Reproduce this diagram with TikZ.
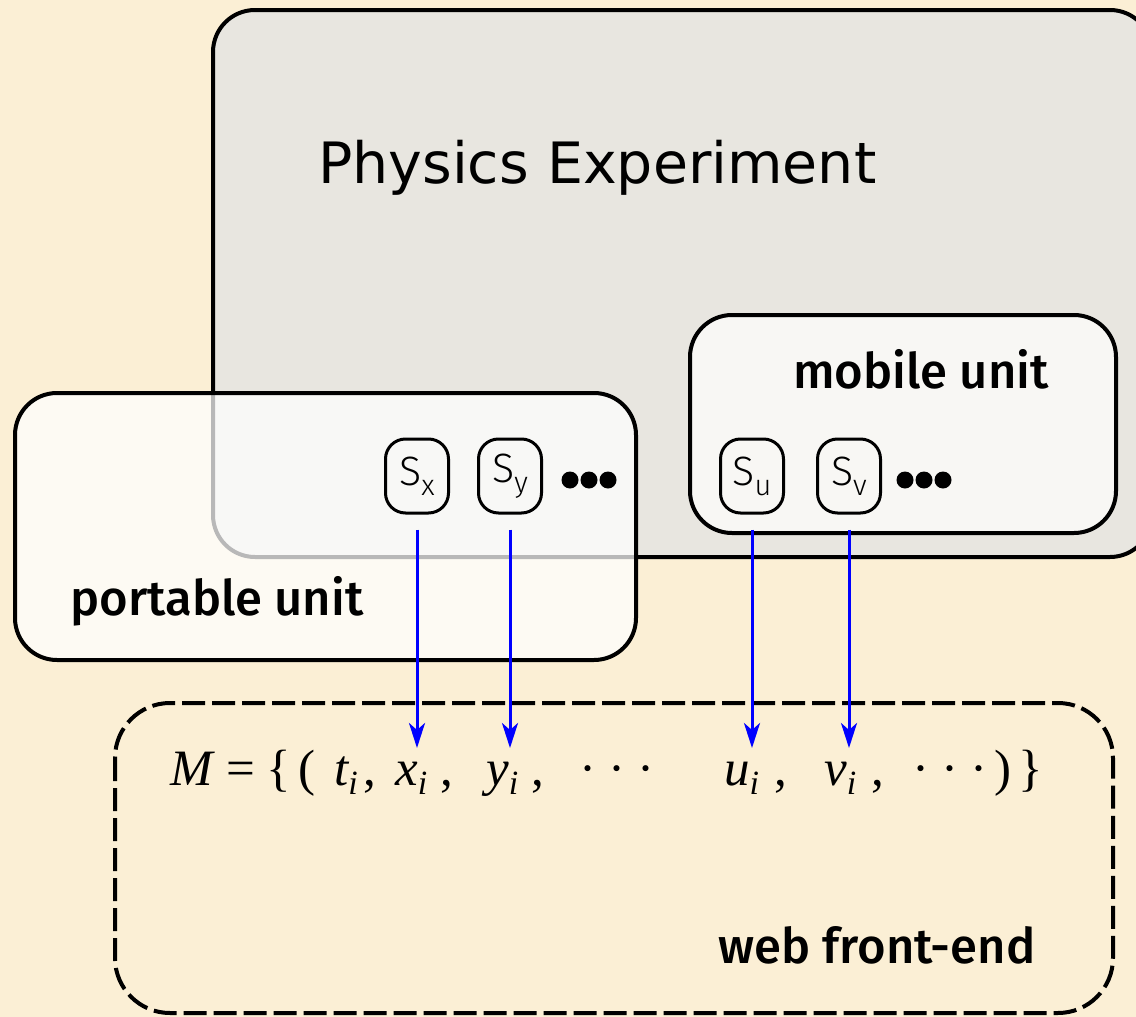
\documentclass[tikz,border=0pt]{standalone}
\usepackage{fontspec}
\usetikzlibrary{arrows.meta}
\newfontfamily\pefont{DejaVu Sans}
\newfontfamily\unitfont{Fira Sans Medium}
\newfontfamily\sensfont{Fira Sans Light}
\newfontfamily\tnr{Liberation Serif}
\definecolor{parch}{HTML}{FBEFD5}
\definecolor{pegrey}{HTML}{E8E6E0}
\definecolor{mobfill}{HTML}{F8F7F4}
\newcommand{\pc}[2]{\makebox[#1pt][l]{#2}}
\newcommand{\dotc}{\makebox[29pt][c]{·}}
\newcommand{\sbi}{\raisebox{-9pt}{\fontsize{34}{34}\selectfont\itshape i}}
\newcommand{\sbs}[1]{\raisebox{-10pt}{\fontsize{29}{29}\selectfont #1}}
\begin{document}
\begin{tikzpicture}[x=1pt,y=-1pt,
  unitbox/.style={draw=black,line width=4pt,rounded corners=42pt},
  sensor/.style={draw=black,line width=3pt,rounded corners=20pt,minimum width=63pt,minimum height=74pt,inner sep=0pt,font=\sensfont\fontsize{41}{41}\selectfont},
  unitlabel/.style={inner sep=0pt,anchor=base west,font=\unitfont\fontsize{49}{49}\selectfont},
  flow/.style={draw=blue,line width=3pt,-{Stealth[length=25pt,width=16pt,inset=7pt]}},
  dot/.style={fill=black}]
\useasboundingbox (0,0) rectangle (1136,1017);
\fill[parch] (0,0) rectangle (1136,1017);
% Physics Experiment box
\draw[unitbox,fill=pegrey] (213,10) rectangle (1152,557);
\node[inner sep=0pt,anchor=base west,font=\pefont\fontsize{57}{57}\selectfont] (pe) at (318,183) {Physics Experiment};
% portable unit (semi transparent)
\path[fill=white,fill opacity=0.72] (15,393) [rounded corners=42pt] rectangle (636,660);
\draw[unitbox] (15,393) rectangle (636,660);
\node[unitlabel] (pul) at (70,615) {portable unit};
% mobile unit
\draw[unitbox,fill=mobfill] (690,315) rectangle (1116,533);
\node[unitlabel] (mul) at (793,388) {mobile unit};
% web front-end
\draw[draw=black,line width=4pt,dash pattern=on 23pt off 7pt,rounded corners=55pt] (115,703) rectangle (1113,1013);
\node[unitlabel] (wfl) at (718,963) {web front-end};
% sensors
\node[sensor] (sx) at (417,476) {S\sbs{x}};
\node[sensor] (sy) at (510,476) {S\sbs{y}};
\node[sensor] (su) at (752,476) {S\sbs{u}};
\node[sensor] (sv) at (849,476) {S\sbs{v}};
\foreach \cx in {570,589,608,905,924,943} \fill[dot] (\cx,480) circle (8.5pt);
% formula
\node[inner sep=0pt,anchor=base west,font=\tnr\fontsize{51}{51}\selectfont] (mset) at (170,785)
 {\pc{56}{\itshape M}\pc{40}{=}\pc{32}{\{}\pc{36}{(}\pc{29}{\itshape t\sbi}\pc{32}{,}\pc{45}{\itshape x\sbi}\pc{46}{,}\pc{45}{\itshape y\sbi}\pc{42}{,}\pc{151}{\dotc\dotc\dotc}\pc{50}{\itshape u\sbi}\pc{50}{,}\pc{47}{\itshape v\sbi}\pc{35}{,}\pc{88}{\dotc\dotc\dotc}\pc{24}{)}\pc{20}{\}}};
% arrow targets
\coordinate (tx) at (417,748);
\coordinate (ty) at (510,748);
\coordinate (tu) at (752,748);
\coordinate (tv) at (849,748);
\draw[flow] ([yshift=-15pt]sx.south) -- (tx);
\draw[flow] ([yshift=-15pt]sy.south) -- (ty);
\draw[flow] ([yshift=-15pt]su.south) -- (tu);
\draw[flow] ([yshift=-15pt]sv.south) -- (tv);
\end{tikzpicture}
\end{document}
